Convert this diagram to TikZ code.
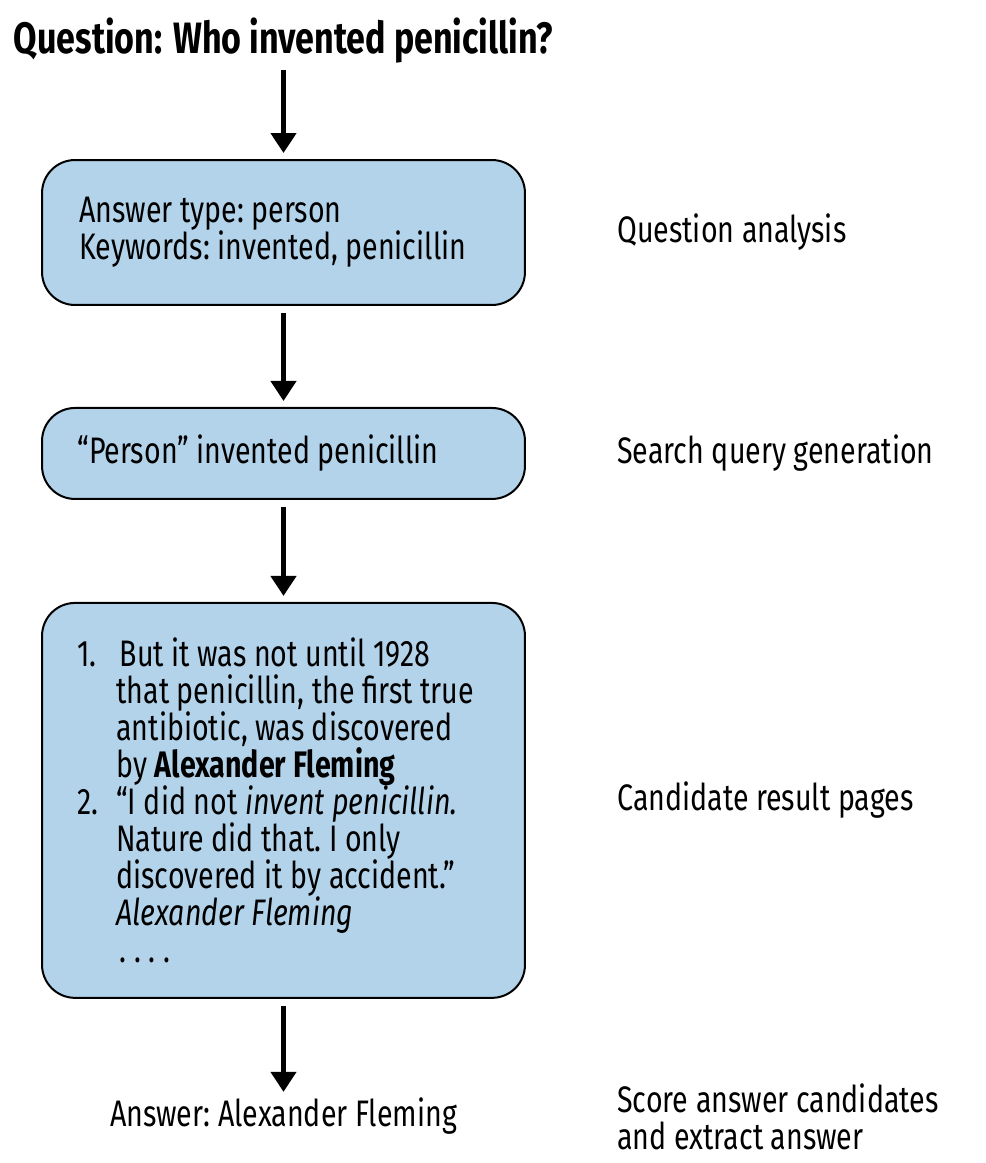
\documentclass[tikz,border=0pt]{standalone}
\usepackage{fontspec}
\setmainfont{Fira Sans}[FakeStretch=0.775]
\usetikzlibrary{positioning, arrows.meta, calc}
\definecolor{boxblue}{HTML}{B3D3EA}
\newcommand{\boxfont}{\fontsize{21}{21.1}\selectfont\lineskiplimit=-30pt\frenchspacing}
\newcommand{\listindent}{\hspace*{0.78cm}}
\tikzset{
  pipeline/.style={
	x=0.02cm, y=-0.02cm, % one unit is one pixel of the picture
	node distance=2cm, % gap between two stages
	flow/.style={-{Triangle[width=0.5cm, length=0.4cm]}, line width=0.09cm, shorten >=0.12cm, shorten <=0.14cm}, % the down arrows
	stagebox/.style={draw=black, line width=0.04cm, fill=boxblue, rounded corners=0.66cm, minimum width=9.66cm}, % the blue boxes
	boxtext/.style={inner sep=0pt, align=left, font=\boxfont}, % the text in a box
	stage/.style={inner sep=0pt, align=left, font=\boxfont}, % the names on the right
  }
}
\begin{document}
\begin{tikzpicture}[pipeline]
	  \useasboundingbox (0,0) rectangle (986,1163);
	  \node[stage, anchor=base, font=\fontsize{25}{25}\selectfont\bfseries] (q) at (283.5,53) {Question: Who invented penicillin?};

	  \node[stagebox, minimum height=2.9cm] (analysis) at (283.5,232.5) {};
	  \node[stagebox, minimum height=1.82cm, below=2.02cm of analysis] (query) {};
	  \node[stagebox, minimum height=7.9cm, below=2.04cm of query] (pages) {};

	  \node[boxtext, right=0.76cm of analysis.west] (t1) {Answer type: person\\Keywords: invented, penicillin};
	  \node[boxtext, right=0.72cm of query.west] (t2) {“Person” invented penicillin};
	  \node[boxtext, right=0.72cm of pages.west] (t3) {%
		\makebox[0.78cm][l]{1.}\hspace{2pt}But it was not until 1928\\
		\listindent that penicillin, the first true\\
		\listindent antibiotic, was discovered\\
		\listindent by \textbf{Alexander Fleming}\\
		\makebox[0.78cm][l]{2.}“I did not \textit{invent penicillin.}\\
		\listindent Nature did that. I only\\
		\listindent discovered it by accident.”\\
		\listindent \textit{Alexander Fleming}\\
		\listindent\hspace{2pt}. . . .};
	  \node[stage, below=1.98cm of pages] (ans) {Answer: Alexander Fleming};

	  \node[stage, right=1.82cm of analysis] (l1) {Question analysis};
	  \node[stage, right=1.82cm of query] (l2) {Search query generation};
	  \node[stage, right=1.82cm of pages] (l3) {Candidate result pages};
	  \node[stage, anchor=west] (l4) at ([xshift=1.82cm]pages.east |- ans) {Score answer candidates\\and extract answer};

	  \draw[flow] (q) -- (analysis);
	  \draw[flow] (analysis) -- (query);
	  \draw[flow] (query) -- (pages);
	  \draw[flow] (pages) -- (ans);
\end{tikzpicture}
\end{document}
